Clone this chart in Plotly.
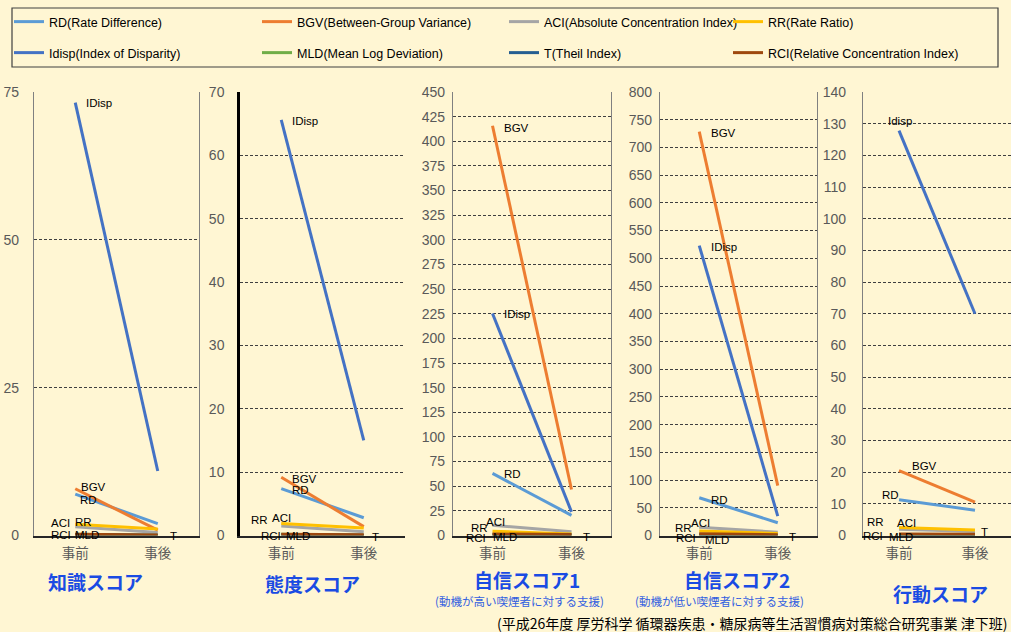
import plotly.graph_objects as go

W, H = 1011, 632

# ---------------- data ----------------
categories = ["事前", "事後"]
series = ["RD", "BGV", "ACI", "RR", "Idisp", "MLD", "T", "RCI"]
legend_labels = [
    "RD(Rate Difference)", "BGV(Between-Group Variance)",
    "ACI(Absolute Concentration Index)", "RR(Rate Ratio)",
    "Idisp(Index of Disparity)", "MLD(Mean Log Deviation)",
    "T(Theil Index)", "RCI(Relative Concentration Index)",
]
colors = ["#5B9BD5", "#ED7D31", "#A5A5A5", "#FFC000",
          "#4472C4", "#70AD47", "#255E91", "#9E480E"]

# values: [事前, 事後]
knowledge = {"RD": [7.0, 2.0], "BGV": [7.9, 0.9], "ACI": [1.5, 0.5], "RR": [1.9, 1.1],
             "Idisp": [73.2, 10.9], "MLD": [0.2, 0.05], "T": [0.15, 0.05], "RCI": [0.2, 0.1]}
attitude = {"RD": [7.4, 2.8], "BGV": [9.2, 1.4], "ACI": [1.5, 0.6], "RR": [1.9, 1.2],
            "Idisp": [65.6, 15.0], "MLD": [0.2, 0.05], "T": [0.15, 0.05], "RCI": [0.2, 0.1]}
confidence1 = {"RD": [63.0, 20.5], "BGV": [415.8, 46.7], "ACI": [10.5, 3.7], "RR": [4.4, 1.5],
               "Idisp": [225.3, 24.0], "MLD": [1.0, 0.5], "T": [0.8, 0.4], "RCI": [1.5, 1.0]}
confidence2 = {"RD": [68.0, 23.0], "BGV": [728.5, 90.0], "ACI": [15.0, 6.0], "RR": [8.0, 3.5],
               "Idisp": [523.0, 35.0], "MLD": [1.5, 0.6], "T": [1.0, 0.4], "RCI": [3.0, 1.5]}
behavior = {"RD": [11.3, 8.0], "BGV": [20.5, 10.5], "ACI": [2.0, 1.3], "RR": [2.5, 1.7],
            "Idisp": [127.8, 70.0], "MLD": [0.3, 0.2], "T": [0.2, 0.1], "RCI": [0.5, 0.4]}

panel_data = [knowledge, attitude, confidence1, confidence2, behavior]
y_max = [75, 70, 450, 800, 140]
y_dtick = [25, 10, 25, 50, 10]

titles = ["知識スコア", "態度スコア", "自信スコア1", "自信スコア2", "行動スコア"]
subtitles = ["", "", "(動機が高い喫煙者に対する支援)", "(動機が低い喫煙者に対する支援)", ""]
footer = "(平成26年度 厚労科学 循環器疾患・糖尿病等生活習慣病対策総合研究事業 津下班)"

# data labels: (text, series, point index, xanchor, xshift, yshift)
labels = [
    [("IDisp", "Idisp", 0, "left", 10, 0), ("BGV", "BGV", 0, "left", 5, 2),
     ("RD", "RD", 0, "left", 4, -6), ("ACI", "ACI", 0, "right", -4, 4),
     ("RR", "RR", 0, "left", -1, 2), ("RCI", "RCI", 0, "right", -3, -1),
     ("MLD", "MLD", 0, "left", -1, -1), ("T", "T", 1, "left", 11, -1)],
    [("IDisp", "Idisp", 0, "left", 10, -1), ("BGV", "BGV", 0, "left", 10, -2),
     ("RD", "RD", 0, "left", 10, -1), ("RR", "RR", 0, "right", -12, 3),
     ("ACI", "ACI", 0, "center", 0, 8), ("RCI", "RCI", 0, "right", 1, -2),
     ("MLD", "MLD", 0, "left", 4, -2), ("T", "T", 1, "left", 7, -2)],
    [("BGV", "BGV", 0, "left", 10, -2), ("IDisp", "Idisp", 0, "left", 10, -1),
     ("RD", "RD", 0, "left", 10, -1), ("ACI", "ACI", 0, "center", 3, 3),
     ("RR", "RR", 0, "right", -4, 3), ("RCI", "RCI", 0, "right", -6, -4),
     ("MLD", "MLD", 0, "left", -1, -2), ("T", "T", 1, "left", 10, -2)],
    [("BGV", "BGV", 0, "left", 11, -1), ("IDisp", "Idisp", 0, "left", 11, -1),
     ("RD", "RD", 0, "left", 11, -2), ("ACI", "ACI", 0, "center", 1, 4),
     ("RR", "RR", 0, "right", -6, 3), ("RCI", "RCI", 0, "right", -2, -4),
     ("MLD", "MLD", 0, "left", 5, -5), ("T", "T", 1, "left", 10, -2)],
    [("Idisp", "Idisp", 0, "center", 1, 10), ("BGV", "BGV", 0, "left", 12, 5),
     ("RD", "RD", 0, "right", 1, 5), ("RR", "RR", 0, "right", -14, 6),
     ("ACI", "ACI", 0, "left", -3, 6), ("RCI", "RCI", 0, "right", -15, -2),
     ("MLD", "MLD", 0, "left", -11, -2), ("T", "T", 1, "left", 5, 3)],
]

# ---------------- layout geometry (pixels) ----------------
x_domains_px = [(34, 199), (240, 405), (453, 611), (660, 817), (863, 1011)]
y_top_px, y_bot_px = 92, 535.5
x_ranges = [[-0.5, 1.5]] * 4 + [[-0.474, 1.474]]
label_standoff = [11, 10, 4, 4, 13]
title_pos = [(95, 581), (312, 583), (527, 579), (737, 579), (940, 593)]
subtitle_pos = [None, None, (519, 601), (719, 601), None]
legend_text_x = [49, 297, 544, 768]
legend_row_y = [22, 53]

BG = "#FFF6D3"
TICK_GREY = "#595959"
GRID = "#3F3F3F"
TITLE_BLUE = "#1A4BE3"
LATIN = "Liberation Sans, Arial, sans-serif"
CJK = "Noto Sans CJK JP, sans-serif"


def px_x(v):
    return v / W


def px_y(v):
    return 1 - v / H


fig = go.Figure()
layout = dict(
    width=W, height=H,
    margin=dict(l=0, r=0, t=0, b=0, autoexpand=False),
    paper_bgcolor=BG, plot_bgcolor=BG,
    showlegend=True,
    font=dict(family=LATIN, color="#000000"),
)

annotations = []
for p, data in enumerate(panel_data):
    n = p + 1
    xa = "x" if n == 1 else f"x{n}"
    ya = "y" if n == 1 else f"y{n}"
    for s_i, s in enumerate(series):
        leg = "legend" if s_i == 0 else f"legend{s_i + 1}"
        fig.add_trace(go.Scatter(
            x=categories, y=data[s], mode="lines",
            line=dict(color=colors[s_i], width=3),
            name=legend_labels[s_i],
            showlegend=(p == 0),
            legend=leg,
            xaxis=xa, yaxis=ya,
            hoverinfo="skip",
        ))
    d0, d1 = x_domains_px[p]
    xaxis = dict(
        domain=[px_x(d0), px_x(d1)],
        anchor=ya,
        type="category",
        range=x_ranges[p],
        showgrid=False, zeroline=False,
        showline=True, linecolor="#262626", linewidth=1.5,
        ticks="",
        ticklabelstandoff=5,
        tickfont=dict(family=CJK, size=13.5, color=TICK_GREY),
        fixedrange=True,
    )
    yaxis = dict(
        domain=[px_y(y_bot_px), px_y(y_top_px)],
        anchor=xa,
        range=[0, y_max[p]],
        dtick=y_dtick[p], tick0=0,
        showgrid=True, gridcolor=GRID, gridwidth=1, griddash="3px,2px",
        zeroline=False,
        ticks="",
        ticklabelstandoff=label_standoff[p],
        tickfont=dict(family=LATIN, size=14, color=TICK_GREY),
        fixedrange=True,
    )
    if p == 1:
        yaxis.update(showline=True, linecolor="#000000", linewidth=2.5, mirror=False)
    elif p == 4:
        yaxis.update(showline=True, linecolor="#808080", linewidth=1.2, mirror=False)
    else:
        yaxis.update(showline=True, linecolor="#808080", linewidth=1.2, mirror=True)
    layout["xaxis" if n == 1 else f"xaxis{n}"] = xaxis
    layout["yaxis" if n == 1 else f"yaxis{n}"] = yaxis

    # data labels anchored on the data points
    for (txt, s, idx, xanc, xs, ys) in labels[p]:
        annotations.append(dict(
            x=categories[idx], y=data[s][idx], xref=xa, yref=ya,
            text=txt, showarrow=False, xanchor=xanc, yanchor="middle",
            xshift=xs, yshift=ys, borderpad=0,
            font=dict(family=LATIN, size=11.5, color="#000000"),
        ))

    # panel titles
    tx, ty = title_pos[p]
    annotations.append(dict(
        x=px_x(tx), y=px_y(ty), xref="paper", yref="paper",
        text=f"<b>{titles[p]}</b>", showarrow=False,
        xanchor="center", yanchor="middle",
        font=dict(family=CJK, size=19, color=TITLE_BLUE),
    ))
    if subtitle_pos[p]:
        sx, sy = subtitle_pos[p]
        annotations.append(dict(
            x=px_x(sx), y=px_y(sy), xref="paper", yref="paper",
            text=subtitles[p], showarrow=False,
            xanchor="center", yanchor="middle",
            font=dict(family=CJK, size=11.5, color="#3360E0"),
        ))

annotations.append(dict(
    x=px_x(1009), y=px_y(623), xref="paper", yref="paper",
    text=footer, showarrow=False, xanchor="right", yanchor="middle",
    font=dict(family=CJK, size=14, color="#000000"),
))

# legends: one per entry, laid out in a 4 x 2 grid
for s_i in range(len(series)):
    key = "legend" if s_i == 0 else f"legend{s_i + 1}"
    col, row = s_i % 4, s_i // 4
    layout[key] = dict(
        x=px_x(legend_text_x[col] - 40), y=px_y(legend_row_y[row]),
        xanchor="left", yanchor="middle",
        orientation="h",
        bgcolor="rgba(0,0,0,0)", borderwidth=0,
        font=dict(family=LATIN, size=12.5, color="#000000"),
        itemclick=False, itemdoubleclick=False,
    )

layout["shapes"] = [dict(
    type="rect", xref="paper", yref="paper",
    x0=px_x(12), x1=px_x(998), y0=px_y(67), y1=px_y(8),
    line=dict(color="#404040", width=1.2), fillcolor="rgba(0,0,0,0)", layer="below",
)]
layout["annotations"] = annotations
fig.update_layout(**layout)

fig.write_html("out.html")
